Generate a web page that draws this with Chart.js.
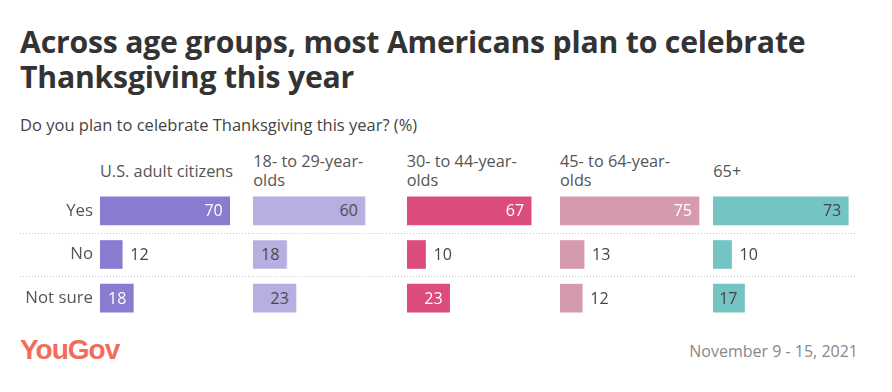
<!DOCTYPE html>
<html>
<head>
<meta charset="utf-8">
<script src="https://cdn.jsdelivr.net/npm/chart.js@4.4.0/dist/chart.umd.min.js"></script>
<style>
  body { margin: 0; width: 892px; height: 392px; background: #fff; font-family: 'Open Sans', sans-serif; overflow: hidden; }
  #title { position: absolute; left: 20px; top: 24px; font-size: 30.2px; font-weight: 700; color: #333; line-height: 35px; letter-spacing: -0.2px; }
  #subtitle { position: absolute; left: 20px; top: 113px; font-size: 16.5px; color: #444; }
  .head { position: absolute; top: 150px; height: 42px; width: 138px; display: flex; align-items: center; font-size: 16.3px; line-height: 19px; color: #555; }
  .panel { position: absolute; top: 189px; height: 131px; }
  #logo { position: absolute; left: 20px; top: 334px; font-family: 'Liberation Sans Narrow', 'Liberation Sans', sans-serif; font-weight: 700; font-size: 28px; color: #f26b5b; letter-spacing: -1px; }
  #date { position: absolute; right: 34px; top: 340px; font-size: 16px; color: #888; }
</style>
</head>
<body>
<div id="title">Across age groups, most Americans plan to celebrate<br>Thanksgiving this year</div>
<div id="subtitle">Do you plan to celebrate Thanksgiving this year? (%)</div>
<div id="heads"></div>
<div id="panels"></div>
<div id="logo">YouGov</div>
<div id="date">November 9 - 15, 2021</div>
<script>
// answers (rows) and groups (panels)
const answers = ['Yes', 'No', 'Not sure'];
const groups = ['U.S. adult citizens', '18- to 29-year-olds', '30- to 44-year-olds', '45- to 64-year-olds', '65+'];

const usAdults = [70, 12, 18];
const age18to29 = [60, 18, 23];
const age30to44 = [67, 10, 23];
const age45to64 = [75, 13, 12];
const age65plus = [73, 10, 17];

const series = [usAdults, age18to29, age30to44, age45to64, age65plus];
const colors = ['#8a7bd1', '#b8aee2', '#dc4c7f', '#d599b0', '#74c4c4'];
// label colour used when the number sits inside the bar
const insideText = ['#ffffff', '#444444', '#ffffff', '#ffffff', '#444444'];

const pxPerUnit = 1.853;
const panelLeft = [100, 253.3, 406.7, 560, 713.3];
const panelWidth = [153.3, 153.4, 153.3, 153.3, 144];

const font = { family: "'Open Sans', sans-serif", size: 16 };

// dotted separators between rows
const separators = {
    id: 'separators',
    beforeDatasetsDraw(chart, args, opts) {
        const { ctx, chartArea, scales } = chart;
        ctx.save();
        ctx.strokeStyle = '#c8c8c8';
        ctx.lineWidth = 1;
        ctx.setLineDash([1, 2]);
        for (let i = 0; i < answers.length - 1; i++) {
            const y = Math.round((scales.y.getPixelForValue(i) + scales.y.getPixelForValue(i + 1)) / 2) + 0.5;
            ctx.beginPath();
            ctx.moveTo(opts.fromX ?? chartArea.left, y);
            ctx.lineTo(chartArea.right, y);
            ctx.stroke();
        }
        ctx.restore();
    }
};

// value labels, inside the bar end when it fits
const valueLabels = {
    id: 'valueLabels',
    afterDatasetsDraw(chart, args, opts) {
        const { ctx } = chart;
        const meta = chart.getDatasetMeta(0);
        const values = chart.data.datasets[0].data;
        ctx.save();
        ctx.font = `${font.size}px ${font.family}`;
        ctx.textBaseline = 'middle';
        meta.data.forEach((bar, i) => {
            const v = values[i];
            if (v >= 17) {
                ctx.textAlign = 'right';
                ctx.fillStyle = opts.inside;
                ctx.fillText(v, bar.x - 7, bar.y + 1);
            } else {
                ctx.textAlign = 'left';
                ctx.fillStyle = '#444';
                ctx.fillText(v, bar.x + 8, bar.y + 1);
            }
        });
        ctx.restore();
    }
};

groups.forEach((g, k) => {
    const head = document.createElement('div');
    head.className = 'head';
    head.style.left = panelLeft[k] + 'px';
    head.textContent = g;
    document.getElementById('heads').appendChild(head);

    const first = k === 0;
    const box = document.createElement('div');
    box.className = 'panel';
    box.style.left = (first ? 0 : panelLeft[k]) + 'px';
    box.style.width = (first ? panelLeft[0] + panelWidth[0] : panelWidth[k]) + 'px';
    const canvas = document.createElement('canvas');
    box.appendChild(canvas);
    document.getElementById('panels').appendChild(box);

    const yScale = {
        display: first,
        grid: { display: false, drawTicks: false },
        border: { display: false },
        ticks: { color: '#555', font: { family: font.family, size: 16.8 }, padding: 7 }
    };
    if (first) {
        yScale.afterFit = s => {
            s.width = panelLeft[0];
            s.paddingTop = 0;
            s.paddingBottom = 0;
        };
    }

    new Chart(canvas, {
        type: 'bar',
        data: {
            labels: answers,
            datasets: [{
                data: series[k],
                backgroundColor: colors[k],
                barThickness: 28
            }]
        },
        options: {
            indexAxis: 'y',
            responsive: true,
            maintainAspectRatio: false,
            animation: false,
            layout: { padding: 0 },
            plugins: {
                legend: { display: false },
                tooltip: { enabled: false },
                separators: { fromX: first ? 20 : undefined },
                valueLabels: { inside: insideText[k] }
            },
            scales: {
                x: { display: false, min: 0, max: panelWidth[k] / pxPerUnit },
                y: yScale
            }
        },
        plugins: [separators, valueLabels]
    });
});
</script>
</body>
</html>
